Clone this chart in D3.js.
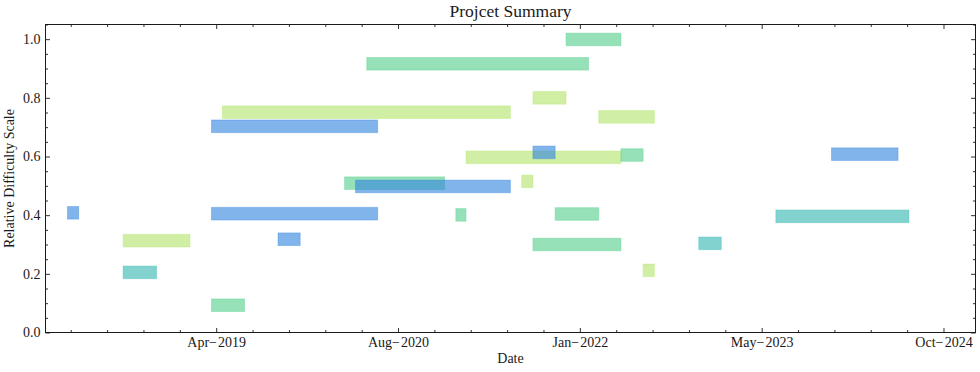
<!DOCTYPE html>
<html>
<head>
<meta charset="utf-8">
<script src="https://cdn.jsdelivr.net/npm/d3@7"></script>
<style>
  html, body { margin: 0; padding: 0; background: #fff; }
  svg { display: block; font-family: "Liberation Serif", "DejaVu Serif", serif; }
</style>
</head>
<body>
<svg id="chart" width="980" height="372"></svg>
<script>
// ---- data ----
const groups = ["blue", "teal", "green", "lime"];
const groupColors = ["#2f82df", "#2fb6b1", "#50cd89", "#b1e467"];
const drawOrder = ["lime", "green", "teal", "blue"];

const taskGroup = [
  "blue", "blue", "blue", "blue", "blue", "blue", "blue",
  "teal", "teal", "teal",
  "green", "green", "green", "green", "green", "green", "green", "green",
  "lime", "lime", "lime", "lime", "lime", "lime", "lime"
];
const taskStart = [
  "2018-03-01", "2019-04-01", "2019-04-01", "2019-10-01", "2020-05-01", "2021-09-01", "2023-12-01",
  "2018-08-01", "2022-12-01", "2023-07-01",
  "2019-04-01", "2021-12-01", "2020-06-01", "2020-04-01", "2021-02-01", "2021-11-01", "2021-09-01", "2022-05-01",
  "2018-08-01", "2019-05-01", "2021-09-01", "2022-03-01", "2021-03-01", "2021-08-01", "2022-07-01"
];
const taskEnd = [
  "2018-04-01", "2020-07-01", "2020-07-01", "2019-12-01", "2021-07-01", "2021-11-01", "2024-06-01",
  "2018-11-01", "2023-02-01", "2024-07-01",
  "2019-07-01", "2022-05-01", "2022-02-01", "2021-01-01", "2021-03-01", "2022-03-01", "2022-05-01", "2022-07-01",
  "2019-02-01", "2021-07-01", "2021-12-01", "2022-08-01", "2022-05-01", "2021-09-01", "2022-08-01"
];
const taskLevel = [
  0.408, 0.405, 0.703, 0.318, 0.498, 0.614, 0.608,
  0.205, 0.304, 0.396,
  0.093, 0.999, 0.916, 0.509, 0.401, 0.404, 0.300, 0.605,
  0.313, 0.751, 0.800, 0.735, 0.597, 0.515, 0.212
];
const barHeight = 0.043;

// axis ticks (matplotlib date numbers: days since 1970-01-01)
const majorTickDays = [18000, 18500, 19000, 19500, 20000];
const majorTickLabels = ["Apr\u2212\u200a2019", "Aug\u2212\u200a2020", "Jan\u2212\u200a2022", "May\u2212\u200a2023", "Oct\u2212\u200a2024"];
const minorTickDays = d3.range(17600, 20001, 100);
const yMajorTicks = [0.0, 0.2, 0.4, 0.6, 0.8, 1.0];
const yMinorTicks = d3.range(0, 1.0501, 0.05);
const xDomainDays = [17530.6, 20088];
const yDomain = [0, 1.05];

const titleText = "Projcet Summary";
const xLabelText = "Date";
const yLabelText = "Relative Difficulty Scale";

// ---- layout ----
const L = 45.5, R = 975.5, T = 24.5, B = 332.5;
const dayToDate = d => new Date(d * 86400000);
const parse = d3.utcParse("%Y-%m-%d");

const x = d3.scaleUtc().domain(xDomainDays.map(dayToDate)).range([L, R]);
const y = d3.scaleLinear().domain(yDomain).range([B, T]);
const color = d3.scaleOrdinal().domain(groups).range(groupColors);

const svg = d3.select("#chart");
const ink = "#1a1a1a";

const tasks = taskGroup.map((g, i) => ({
  g, start: parse(taskStart[i]), end: parse(taskEnd[i]), level: taskLevel[i],
  order: drawOrder.indexOf(g)
})).sort((a, b) => a.order - b.order);

// bars
svg.append("g").selectAll("rect").data(tasks).join("rect")
  .attr("x", d => x(d.start))
  .attr("width", d => x(d.end) - x(d.start))
  .attr("y", d => y(d.level + barHeight / 2))
  .attr("height", d => y(d.level - barHeight / 2) - y(d.level + barHeight / 2))
  .attr("fill", d => color(d.g))
  .attr("fill-opacity", 0.6)
  .attr("stroke", d => color(d.g))
  .attr("stroke-opacity", 0.35)
  .attr("stroke-width", 1);

// axes
const fontTick = 14;
const xMajor = majorTickDays.map(dayToDate);
const xMinor = minorTickDays.map(dayToDate).filter(d => !majorTickDays.some(m => +dayToDate(m) === +d));
const yMinor = yMinorTicks.filter(v => !yMajorTicks.some(m => Math.abs(m - v) < 1e-6));

function styleAxis(g) {
  g.select(".domain").remove();
  g.selectAll("line").attr("stroke", ink).attr("stroke-width", 0.9);
  g.selectAll("text").attr("fill", ink).attr("font-size", fontTick)
    .attr("font-family", "Liberation Serif, DejaVu Serif, serif");
}

// bottom
svg.append("g").attr("transform", `translate(0,${B})`)
  .call(d3.axisBottom(x).tickValues(xMajor).tickSize(-4.5).tickPadding(4.5)
    .tickFormat((d, i) => majorTickLabels[i]))
  .call(styleAxis);
svg.append("g").attr("transform", `translate(0,${B})`)
  .call(d3.axisBottom(x).tickValues(xMinor).tickSize(-2.5).tickFormat(""))
  .call(styleAxis);
// top
svg.append("g").attr("transform", `translate(0,${T})`)
  .call(d3.axisTop(x).tickValues(xMajor).tickSize(-4.5).tickFormat(""))
  .call(styleAxis);
svg.append("g").attr("transform", `translate(0,${T})`)
  .call(d3.axisTop(x).tickValues(xMinor).tickSize(-2.5).tickFormat(""))
  .call(styleAxis);
// left
svg.append("g").attr("transform", `translate(${L},0)`)
  .call(d3.axisLeft(y).tickValues(yMajorTicks).tickSize(-4.5).tickPadding(5)
    .tickFormat(d3.format(".1f")))
  .call(styleAxis);
svg.append("g").attr("transform", `translate(${L},0)`)
  .call(d3.axisLeft(y).tickValues(yMinor).tickSize(-2.5).tickFormat(""))
  .call(styleAxis);
// right
svg.append("g").attr("transform", `translate(${R},0)`)
  .call(d3.axisRight(y).tickValues(yMajorTicks).tickSize(-4.5).tickFormat(""))
  .call(styleAxis);
svg.append("g").attr("transform", `translate(${R},0)`)
  .call(d3.axisRight(y).tickValues(yMinor).tickSize(-2.5).tickFormat(""))
  .call(styleAxis);

// frame
svg.append("rect").attr("x", L).attr("y", T).attr("width", R - L).attr("height", B - T)
  .attr("fill", "none").attr("stroke", ink).attr("stroke-width", 1);

// labels
svg.append("text").attr("x", (L + R) / 2).attr("y", 17)
  .attr("text-anchor", "middle").attr("font-size", 17.5).attr("fill", ink).text(titleText);
svg.append("text").attr("x", (L + R) / 2).attr("y", 363)
  .attr("text-anchor", "middle").attr("font-size", 14).attr("fill", ink).text(xLabelText);
svg.append("text").attr("transform", `translate(14,${(T + B) / 2}) rotate(-90)`)
  .attr("text-anchor", "middle").attr("font-size", 14).attr("fill", ink).text(yLabelText);
</script>
</body>
</html>
